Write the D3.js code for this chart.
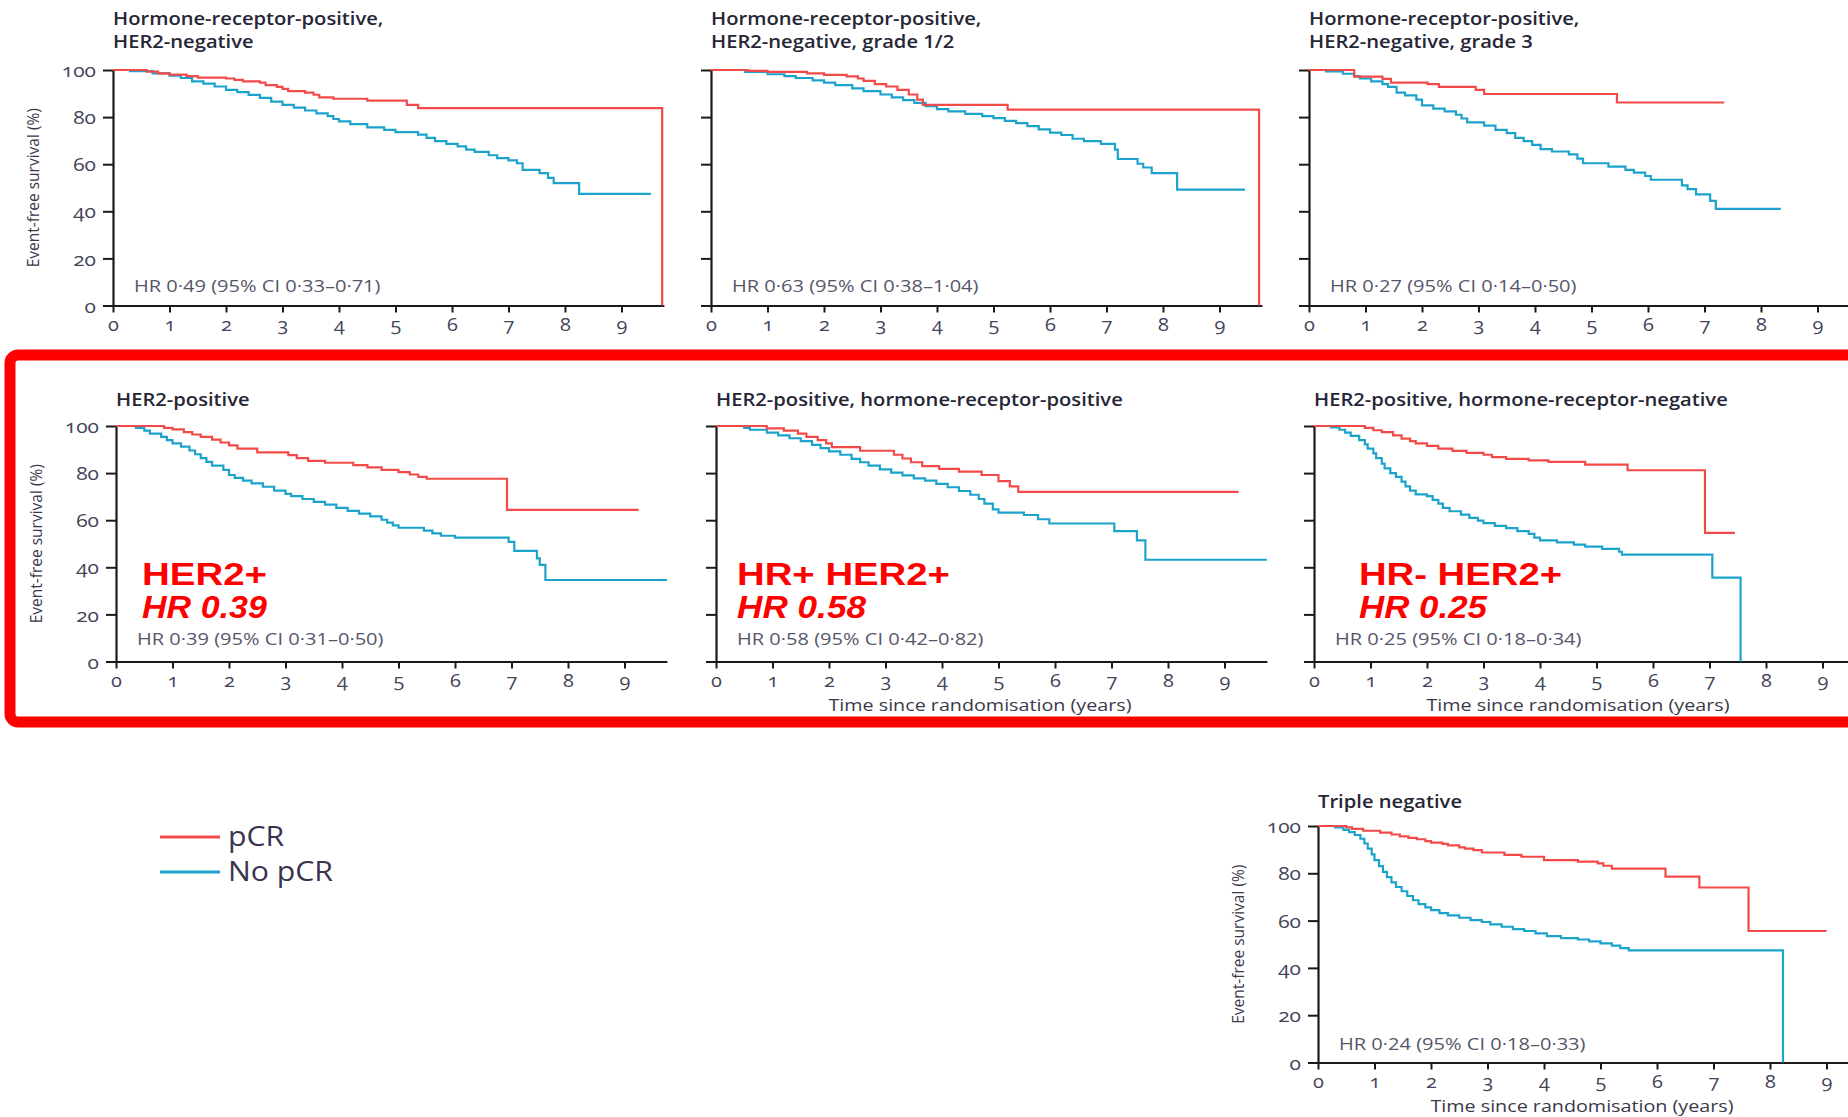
<!DOCTYPE html>
<html>
<head>
<meta charset="utf-8">
<script src="https://cdn.jsdelivr.net/npm/d3@7/dist/d3.min.js"></script>
<style>
  body { margin: 0; background: #fff; }
  svg text { font-family: "Open Sans", "Noto Sans", sans-serif; }
  .title { font-size: 18px; font-weight: 600; fill: #262636; }
  .hr { font-size: 17px; fill: #56566a; }
  .tick text { font-size: 19px; fill: #44445a; font-variant-numeric: oldstyle-nums; }
  .ylab { font-size: 15.5px; fill: #3a3a4a; }
  .xlab { font-size: 17px; fill: #3a3a4a; }
  .big { font-family: "Liberation Sans", Arial, sans-serif; font-size: 31px; font-weight: bold; fill: #ff0000; }
  .legend { font-size: 28px; fill: #3a3350; }
</style>
</head>
<body>
<div id="chart"></div>
<script>
// ---- data ----
var xTicks = [0, 1, 2, 3, 4, 5, 6, 7, 8, 9];
var yTicks = [0, 20, 40, 60, 80, 100];
var seriesNames = ["pCR", "No pCR"];

var titles = [
    ["Hormone-receptor-positive,", "HER2-negative"],
    ["Hormone-receptor-positive,", "HER2-negative, grade 1/2"],
    ["Hormone-receptor-positive,", "HER2-negative, grade 3"],
    ["HER2-positive"],
    ["HER2-positive, hormone-receptor-positive"],
    ["HER2-positive, hormone-receptor-negative"],
    ["Triple negative"]
];

var hrLabels = [
    "HR 0·49 (95% CI 0·33–0·71)",
    "HR 0·63 (95% CI 0·38–1·04)",
    "HR 0·27 (95% CI 0·14–0·50)",
    "HR 0·39 (95% CI 0·31–0·50)",
    "HR 0·58 (95% CI 0·42–0·82)",
    "HR 0·25 (95% CI 0·18–0·34)",
    "HR 0·24 (95% CI 0·18–0·33)"
];

// highlighted subgroups (red overlay text)
var highlightNames = ["HER2+", "HR+ HER2+", "HR- HER2+"];
var highlightHR = ["HR 0.39", "HR 0.58", "HR 0.25"];

// [years, event-free survival %]
var hrPosHer2Neg_pcr = [[0,100],[0.6,99.3],[0.8,98.6],[1.0,98],[1.3,97.4],[1.5,96.8],[2.0,96.4],[2.15,95.8],[2.3,95.2],[2.6,94.6],[2.7,93.6],[2.9,92.8],[3.0,92],[3.1,91],[3.4,90.4],[3.55,89.5],[3.65,88.4],[3.9,87.8],[4.5,87],[5.2,85.2],[5.4,83.8],[9.72,83.8],[9.72,0]];
var hrPosHer2Neg_nopcr = [[0,100],[0.3,99.5],[0.7,98.6],[1.0,97.6],[1.2,96.6],[1.4,95.2],[1.6,94.2],[1.8,93],[2.0,91.6],[2.2,90.6],[2.4,89.4],[2.6,88.2],[2.8,86.6],[3.0,85.2],[3.2,84],[3.4,82.8],[3.6,81.6],[3.8,80.4],[3.9,79.2],[4.0,78.2],[4.2,77],[4.5,75.6],[4.8,74.6],[5.0,73.6],[5.4,72.6],[5.55,71.2],[5.7,69.8],[5.9,68.6],[6.1,67.6],[6.25,66.2],[6.4,65.2],[6.65,63.8],[6.8,62.6],[7.0,61.6],[7.15,60.4],[7.25,57.6],[7.55,56.2],[7.7,54.2],[7.8,52],[8.25,47.4],[9.52,47.4]];

var grade12_pcr = [[0,100],[0.65,99.6],[1.0,99.2],[1.7,98.6],[2.0,97.9],[2.4,97.3],[2.6,96.4],[2.7,95.4],[2.9,94],[3.1,93],[3.3,91.6],[3.5,89.6],[3.65,87.4],[3.75,85.2],[5.25,83.2],[9.7,83.2],[9.7,0]];
var grade12_nopcr = [[0,100],[0.6,99.2],[1.0,98.2],[1.3,97.4],[1.5,96.6],[1.8,95.6],[2.0,94.6],[2.2,93.6],[2.5,92.2],[2.7,91],[3.0,89.6],[3.2,88.4],[3.4,87.2],[3.6,86],[3.8,84.6],[4.0,83.4],[4.2,82.4],[4.5,81.4],[4.8,80.4],[5.0,79.6],[5.2,78.4],[5.4,77.4],[5.6,76.2],[5.8,74.8],[6.0,73.4],[6.2,72.4],[6.4,70.8],[6.6,69.8],[6.9,68.6],[7.15,66.2],[7.2,62.2],[7.55,60.2],[7.65,58.6],[7.8,56.2],[8.25,49.2],[9.45,49.2]];

var grade3_pcr = [[0,100],[0.8,97.2],[1.3,96.2],[1.45,94.6],[2.1,94],[2.3,92.8],[2.95,91.6],[3.1,89.8],[5.45,86.2],[7.35,86.2]];
var grade3_nopcr = [[0,100],[0.3,99.4],[0.6,98.4],[0.8,97.4],[0.9,96.4],[1.1,95.2],[1.3,94],[1.4,92.8],[1.55,90.4],[1.7,89.2],[1.9,87.4],[2.0,85],[2.2,83.6],[2.4,82.4],[2.6,81],[2.7,79.4],[2.8,77.8],[3.1,76.4],[3.3,74.6],[3.5,73.2],[3.65,71.2],[3.8,69.8],[3.95,68.2],[4.1,66.4],[4.3,65.4],[4.6,64.2],[4.75,62.4],[4.85,60.4],[5.3,59],[5.6,57.6],[5.75,56.4],[5.95,55],[6.05,53.4],[6.6,51],[6.7,49.4],[6.85,47.2],[7.1,44.4],[7.2,41],[8.35,41]];

var her2Pos_pcr = [[0,100],[0.85,99.2],[1.0,98.6],[1.2,97.4],[1.35,96.4],[1.5,95.4],[1.7,94.2],[1.85,93],[2.0,91.8],[2.15,90.4],[2.5,88.8],[3.05,87.6],[3.2,86.4],[3.4,85.2],[3.7,84.4],[4.2,83.4],[4.45,82.4],[4.7,81.4],[5.0,80.4],[5.2,79.4],[5.35,78.4],[5.5,77.6],[6.92,64.4],[9.25,64.4]];
var her2Pos_nopcr = [[0,100],[0.35,99.2],[0.5,98],[0.6,96.8],[0.8,95.4],[0.9,94],[1.0,92.6],[1.15,91.2],[1.3,89.6],[1.4,88],[1.5,86.4],[1.6,84.8],[1.7,83.2],[1.9,81.4],[2.0,79.2],[2.1,78],[2.25,76.8],[2.4,75.6],[2.6,74.2],[2.8,72.6],[3.0,71.2],[3.1,70.2],[3.3,69],[3.5,67.8],[3.7,66.6],[3.9,65.2],[4.1,64],[4.3,62.8],[4.5,61.6],[4.7,60.2],[4.8,59],[4.9,57.8],[5.0,56.8],[5.45,55.6],[5.6,54.4],[5.75,53.4],[6.0,52.6],[6.95,50.8],[7.05,47],[7.45,43.8],[7.5,41],[7.6,34.6],[9.75,34.6]];

var hrPosHer2Pos_pcr = [[0,100],[0.9,99],[1.2,98],[1.45,96.8],[1.6,95.4],[1.8,94],[1.95,92.6],[2.05,91],[2.55,89.5],[3.15,87.8],[3.3,86.2],[3.45,84.6],[3.65,83],[3.95,81.8],[4.3,80.6],[4.7,79.2],[5.0,76.6],[5.2,74.4],[5.35,72],[9.25,72]];
var hrPosHer2Pos_nopcr = [[0,100],[0.5,99.2],[0.6,98.4],[0.9,97.2],[1.1,96],[1.3,94.8],[1.5,93.6],[1.7,92],[1.85,90.6],[2.0,89.2],[2.2,87.8],[2.4,86],[2.55,84.6],[2.7,83.2],[2.9,81.6],[3.1,80.2],[3.3,79],[3.5,77.8],[3.7,76.8],[3.9,75.4],[4.1,74],[4.3,72.4],[4.5,70.8],[4.65,69],[4.75,67],[4.9,64.6],[5.0,63.2],[5.45,62.2],[5.7,60.4],[5.9,58.6],[7.05,55.4],[7.45,51.4],[7.6,43.2],[9.75,43.2]];

var hrNegHer2Pos_pcr = [[0,100],[0.9,99.2],[1.05,98.2],[1.2,97.4],[1.4,96],[1.55,94.6],[1.7,93.6],[1.8,92.6],[2.0,91.6],[2.2,90.4],[2.45,89.4],[2.7,88.6],[3.0,87.8],[3.15,86.8],[3.4,86],[3.8,85.4],[4.15,84.8],[4.8,83.6],[5.55,81.2],[6.92,54.6],[7.45,54.6]];
var hrNegHer2Pos_nopcr = [[0,100],[0.3,99.4],[0.45,98.4],[0.55,97.2],[0.65,95.8],[0.8,94],[0.9,92.2],[0.95,90.4],[1.05,88.4],[1.1,86.4],[1.2,84],[1.25,82],[1.35,80],[1.45,78.4],[1.55,76.4],[1.62,74.4],[1.7,72.6],[1.8,71],[2.0,70.2],[2.1,68.6],[2.2,67],[2.28,65.2],[2.4,63.8],[2.6,62.4],[2.75,61],[2.9,59.8],[3.0,58.8],[3.2,57.6],[3.4,56.6],[3.6,55.4],[3.8,54.2],[3.9,52.6],[4.0,51.4],[4.3,50.6],[4.6,49.6],[4.8,48.8],[5.1,47.8],[5.4,46.6],[5.45,45.4],[7.05,35.6],[7.55,35.6],[7.55,0]];

var tripleNeg_pcr = [[0,100],[0.5,99.4],[0.6,98.8],[0.8,98],[1.1,97.2],[1.3,96.4],[1.45,95.6],[1.6,95],[1.75,94.4],[1.9,93.6],[2.0,93],[2.2,92.4],[2.3,91.8],[2.5,91],[2.6,90.4],[2.75,89.8],[2.9,88.8],[3.3,87.8],[3.6,87],[4.0,85.6],[4.6,84.9],[4.95,84.2],[5.05,83.2],[5.2,82],[6.15,78.6],[6.75,74],[7.62,55.6],[9.0,55.6]];
var tripleNeg_nopcr = [[0,100],[0.3,99.4],[0.45,98.4],[0.55,97.4],[0.65,96.2],[0.75,94.6],[0.82,92.6],[0.88,90.4],[0.95,88],[1.0,85.6],[1.08,83],[1.15,80.6],[1.22,78.4],[1.3,76.2],[1.38,74.2],[1.48,72.4],[1.58,70.4],[1.68,68.6],[1.78,67],[1.9,65.6],[2.0,64.4],[2.15,63.2],[2.3,62.2],[2.5,61.2],[2.7,60.2],[2.9,59.4],[3.05,58.4],[3.25,57.4],[3.45,56.4],[3.65,55.6],[3.85,54.6],[4.05,53.4],[4.3,52.6],[4.6,52],[4.8,51.2],[5.0,50.4],[5.2,49.4],[5.35,48.4],[5.5,47.4],[8.23,47.4],[8.23,0]];

var pcrSeries = [hrPosHer2Neg_pcr, grade12_pcr, grade3_pcr, her2Pos_pcr, hrPosHer2Pos_pcr, hrNegHer2Pos_pcr, tripleNeg_pcr];
var noPcrSeries = [hrPosHer2Neg_nopcr, grade12_nopcr, grade3_nopcr, her2Pos_nopcr, hrPosHer2Pos_nopcr, hrNegHer2Pos_nopcr, tripleNeg_nopcr];

// ---- layout ----
var W = 1848, H = 1117;
var yearPx = 56.5;
var xMax = 9.75;
var colors = { pcr: "#f24a48", nopcr: "#1ca3cb" };
var TSX = 1.12; // horizontal stretch of the scanned lettering

// x0 = y-axis position, yTop/yBot = 100 and 0 on the y axis
var panels = [
    { x0: 113,  yTop: 70,  yBot: 305.5, yLabels: true,  titleY: 25,  hrY: 292 },
    { x0: 711,  yTop: 70,  yBot: 305.5, yLabels: false, titleY: 25,  hrY: 292 },
    { x0: 1309, yTop: 70,  yBot: 305.5, yLabels: false, titleY: 25,  hrY: 292 },
    { x0: 116,  yTop: 426, yBot: 661.5, yLabels: true,  titleY: 406, hrY: 645, big: 0, bigDx: 26, xLab: false },
    { x0: 716,  yTop: 426, yBot: 661.5, yLabels: false, titleY: 406, hrY: 645, big: 1, bigDx: 21, xLab: true },
    { x0: 1314, yTop: 426, yBot: 661.5, yLabels: false, titleY: 406, hrY: 645, big: 2, bigDx: 45, xLab: true },
    { x0: 1318, yTop: 826, yBot: 1062.5, yLabels: true, titleY: 808, hrY: 1050, xLab: true }
];
var bigWidths = [[125, 125], [213, 129], [203, 128]];

var svg = d3.select("#chart").append("svg")
    .attr("width", W)
    .attr("height", H);

function addText(parent, x, y, str, cls, sx) {
    return parent.append("text")
        .attr("class", cls)
        .attr("transform", "translate(" + x + "," + y + ") scale(" + sx + ",1)")
        .text(str);
}

// highlight box round the HER2-positive row
svg.append("rect")
    .attr("x", 10)
    .attr("y", 355)
    .attr("width", W + 40)
    .attr("height", 367)
    .attr("rx", 8)
    .attr("fill", "none")
    .attr("stroke", "#ff0000")
    .attr("stroke-width", 11);

panels.forEach(function(p, i) {
    var g = svg.append("g").attr("class", "panel");

    var x = d3.scaleLinear().domain([0, xMax]).range([p.x0, p.x0 + xMax * yearPx]);
    var y = d3.scaleLinear().domain([0, 100]).range([p.yBot, p.yTop]);

    // axes
    var xAxis = g.append("g")
        .attr("transform", "translate(0," + p.yBot + ")")
        .call(d3.axisBottom(x).tickValues(xTicks).tickSize(7).tickSizeOuter(0));
    xAxis.selectAll("text").attr("y", null).attr("dy", null)
        .attr("transform", "translate(0,25) scale(1.05,1)");

    var yAxis = g.append("g")
        .attr("transform", "translate(" + p.x0 + ",0)")
        .call(d3.axisLeft(y).tickValues(yTicks).tickSize(10).tickSizeOuter(0)
            .tickFormat(function(d) { return p.yLabels ? d : ""; }));
    yAxis.selectAll("text").attr("x", null).attr("dy", "0.35em")
        .attr("transform", "translate(-17,0) scale(1.1,1)");

    [xAxis, yAxis].forEach(function(a) {
        a.attr("font-size", null).attr("font-family", null);
        a.select(".domain").attr("stroke", "#1a1a1a").attr("stroke-width", 2.2);
        a.selectAll(".tick line").attr("stroke", "#1a1a1a").attr("stroke-width", 2);
    });

    // survival curves
    var line = d3.line()
        .x(function(d) { return x(d[0]); })
        .y(function(d) { return y(d[1]); })
        .curve(d3.curveStepAfter);

    g.append("path").datum(noPcrSeries[i])
        .attr("d", line).attr("fill", "none")
        .attr("stroke", colors.nopcr).attr("stroke-width", 2.2);
    g.append("path").datum(pcrSeries[i])
        .attr("d", line).attr("fill", "none")
        .attr("stroke", colors.pcr).attr("stroke-width", 2.2);

    // titles
    titles[i].forEach(function(t, k) {
        addText(g, p.x0, p.titleY + k * 23, t, "title", TSX);
    });

    addText(g, p.x0 + 21, p.hrY, hrLabels[i], "hr", 1.18);

    if (p.yLabels) {
        g.append("text")
            .attr("class", "ylab")
            .attr("text-anchor", "middle")
            .attr("transform", "translate(" + (p.x0 - 74) + "," + ((p.yTop + p.yBot) / 2) + ") rotate(-90)")
            .text("Event-free survival (%)");
    }

    if (p.xLab) {
        addText(g, p.x0 + 264, p.yBot + 49, "Time since randomisation (years)", "xlab", 1.16)
            .attr("text-anchor", "middle");
    }

    if (p.big !== undefined) {
        g.append("text").attr("class", "big")
            .attr("x", p.x0 + p.bigDx).attr("y", 585)
            .attr("textLength", bigWidths[p.big][0]).attr("lengthAdjust", "spacingAndGlyphs")
            .text(highlightNames[p.big]);
        g.append("text").attr("class", "big").style("font-style", "italic")
            .attr("x", p.x0 + p.bigDx).attr("y", 618)
            .attr("textLength", bigWidths[p.big][1]).attr("lengthAdjust", "spacingAndGlyphs")
            .text(highlightHR[p.big]);
    }
});

// legend
var legend = svg.append("g").attr("transform", "translate(160,837)");
seriesNames.forEach(function(name, i) {
    legend.append("line")
        .attr("x1", 0).attr("x2", 60)
        .attr("y1", i * 35).attr("y2", i * 35)
        .attr("stroke", i == 0 ? colors.pcr : colors.nopcr)
        .attr("stroke-width", 3);
    addText(legend, 68, i * 35 + 9, name, "legend", 1.08);
});
</script>
</body>
</html>
